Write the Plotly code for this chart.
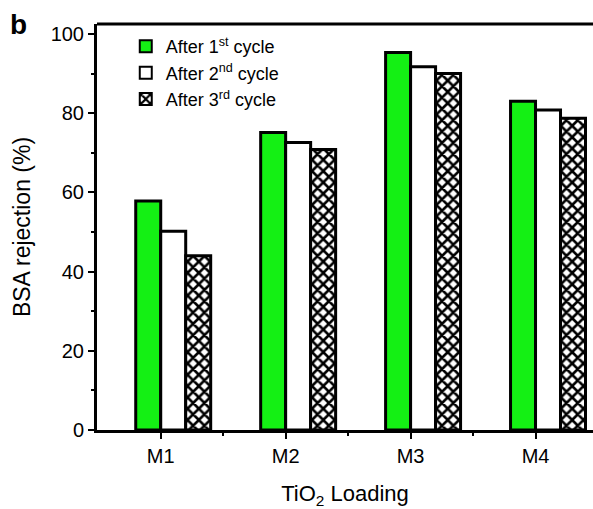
import plotly.graph_objects as go

categories = ["M1", "M2", "M3", "M4"]
cycle1 = [57.8, 75.1, 95.3, 83.0]
cycle2 = [50.2, 72.6, 91.7, 80.8]
cycle3 = [44.0, 70.8, 90.0, 78.7]
series_names = ["After 1<sup>st</sup> cycle", "After 2<sup>nd</sup> cycle", "After 3<sup>rd</sup> cycle"]
y_ticks = [0, 20, 40, 60, 80, 100]

xpos = list(range(len(categories)))
bw = 0.2
FONT = "Liberation Sans, Arial, sans-serif"

fig = go.Figure()
fig.add_trace(go.Bar(x=xpos, y=cycle1, name=series_names[0], width=bw, offset=-bw,
                     marker=dict(color="#14F014", line=dict(color="black", width=3))))
fig.add_trace(go.Bar(x=xpos, y=cycle2, name=series_names[1], width=bw, offset=0,
                     marker=dict(color="white", line=dict(color="black", width=3))))
fig.add_trace(go.Bar(x=xpos, y=cycle3, name=series_names[2], width=bw, offset=bw,
                     marker=dict(color="white", line=dict(color="black", width=3),
                                 pattern=dict(shape="x", fgcolor="black", bgcolor="white",
                                              size=8, solidity=0.55, fillmode="replace"))))

fig.update_layout(
    width=593, height=509,
    margin=dict(l=97, r=0, t=24, b=79),
    paper_bgcolor="white", plot_bgcolor="white",
    barmode="overlay",
    font=dict(family=FONT, size=20, color="black"),
    showlegend=True,
    legend=dict(x=0.058, y=0.99, xanchor="left", yanchor="top",
                bgcolor="rgba(0,0,0,0)", font=dict(size=18), tracegroupgap=0,
                itemsizing="constant"),
    xaxis=dict(range=[-0.51, 3.46], tickvals=xpos, ticktext=categories,
               showline=True, linewidth=3, linecolor="black",
               ticks="outside", ticklen=6, tickwidth=2, tickcolor="black",
               minor=dict(tickvals=[0.5, 1.5, 2.5], ticks="outside", ticklen=3, tickwidth=1.5, tickcolor="black"),
               showgrid=False, zeroline=False,
               title=dict(text="TiO<sub>2</sub> Loading", font=dict(size=22), standoff=20),
               tickfont=dict(size=20)),
    yaxis=dict(range=[0, 102.5], tickvals=y_ticks,
               showline=True, linewidth=3, linecolor="black",
               ticks="outside", ticklen=6, tickwidth=2, tickcolor="black",
               minor=dict(dtick=10, tick0=0, ticks="outside", ticklen=3, tickwidth=1.5, tickcolor="black"),
               showgrid=False, zeroline=False,
               title=dict(text="BSA rejection (%)", font=dict(size=23), standoff=14),
               tickfont=dict(size=20)),
    shapes=[dict(type="line", xref="paper", yref="paper", x0=0, x1=1, y0=1, y1=1,
                 line=dict(color="black", width=3))],
    annotations=[dict(text="<b>b</b>", xref="paper", yref="paper", x=-0.158, y=1.0,
                      xanchor="center", yanchor="middle", showarrow=False,
                      font=dict(size=28, family=FONT))],
)

fig.write_html("out.html")
